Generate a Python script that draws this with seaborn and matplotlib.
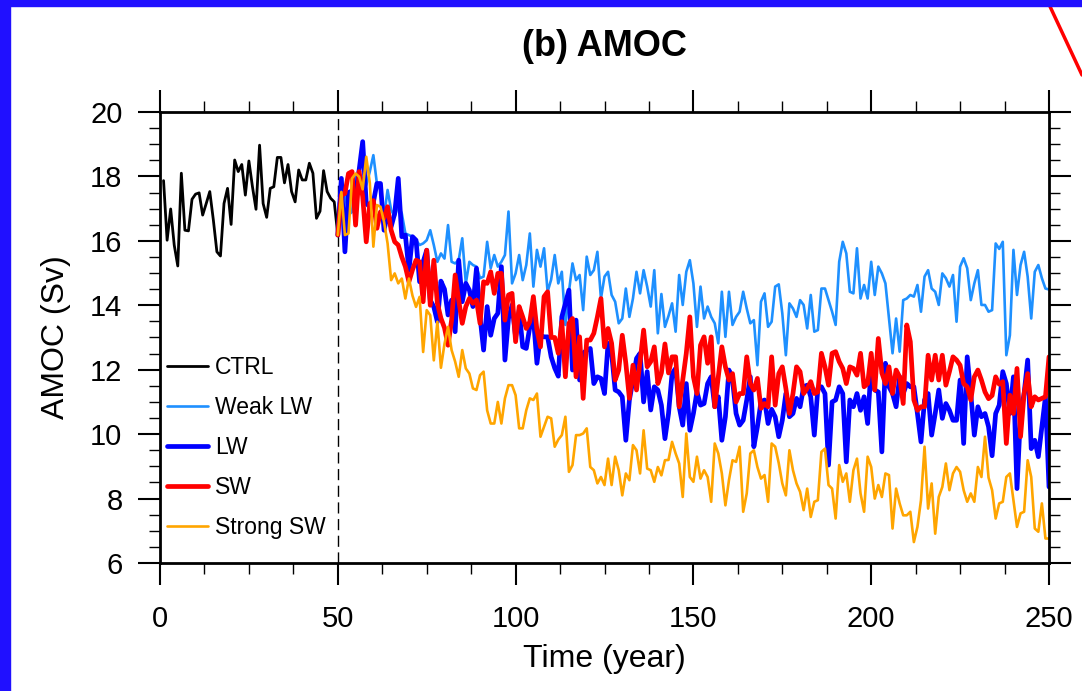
import matplotlib.pyplot as plt
import seaborn as sns
from matplotlib.ticker import MultipleLocator
from matplotlib.patches import Rectangle
from matplotlib.lines import Line2D

# CTRL: años 1-50
years_ctrl = list(range(1, 51))
ctrl = [17.87, 16.02, 16.99, 15.87, 15.22, 18.10, 16.33, 16.31, 17.29, 17.45,
        17.49, 16.80, 17.16, 17.53, 16.65, 15.66, 15.53, 17.16, 17.63, 16.51,
        18.51, 18.15, 18.37, 17.42, 18.48, 17.68, 16.98, 18.97, 17.16, 16.73,
        17.63, 17.68, 18.59, 18.59, 17.80, 18.37, 17.53, 17.21, 18.20, 17.89,
        17.89, 18.41, 18.10, 16.70, 16.92, 18.18, 17.53, 17.32, 17.21, 16.18]

# experimentos: años 50-250
years_exp = list(range(50, 251))
weak_lw = [16.18,
           17.58, 17.47, 16.80, 16.90, 17.99, 18.09, 17.89, 17.73, 18.15, 18.66,
           17.78, 17.73, 16.75, 17.58, 16.96, 16.75, 17.11, 16.85, 16.23, 16.18,
           16.13, 16.02, 15.87, 15.92, 16.02, 16.33, 15.87, 15.35, 15.61, 15.45,
           16.49, 15.35, 15.30, 15.40, 16.08, 14.68, 15.35, 15.25, 15.20, 14.84,
           14.89, 15.97, 15.15, 15.56, 15.20, 15.35, 15.56, 16.91, 14.68, 14.99,
           15.56, 14.78, 15.25, 16.23, 14.58, 15.72, 15.20, 15.77, 14.42, 14.80,
           15.56, 14.68, 15.04, 13.39, 14.42, 15.30, 14.78, 14.94, 13.85, 15.51,
           14.94, 15.09, 15.66, 14.21, 14.89, 15.04, 14.32, 14.11, 13.44, 13.59,
           14.52, 13.64, 14.21, 15.04, 14.37, 15.09, 14.58, 13.96, 15.09, 13.13,
           14.35, 13.33, 13.67, 14.06, 13.18, 14.94, 14.01, 15.04, 15.40, 14.68,
           13.33, 14.58, 13.59, 13.96, 13.64, 13.44, 12.82, 14.42, 13.02, 14.42,
           13.39, 13.64, 13.80, 14.42, 13.90, 13.44, 13.54, 12.14, 14.11, 14.37,
           13.33, 13.49, 14.58, 14.65, 13.75, 12.45, 14.06, 13.90, 13.64, 14.16,
           14.01, 13.28, 14.32, 13.18, 13.23, 14.52, 14.52, 14.16, 13.80, 13.39,
           15.35, 15.97, 15.61, 14.42, 14.37, 15.77, 14.21, 14.63, 14.21, 15.35,
           14.32, 15.20, 14.99, 14.68, 13.60, 12.51, 13.59, 12.56, 14.16, 14.21,
           14.32, 14.27, 14.63, 13.80, 14.89, 15.09, 14.52, 14.42, 14.01, 14.99,
           14.84, 14.58, 14.94, 13.49, 15.20, 15.46, 15.15, 14.16, 14.68, 15.09,
           14.01, 14.01, 13.80, 13.85, 15.92, 15.75, 15.97, 12.45, 13.07, 15.72,
           14.32, 15.25, 15.66, 14.89, 13.59, 15.04, 15.25, 14.84, 14.52, 14.49]
lw = [16.18,
      17.94, 15.66, 17.50, 17.55, 17.45, 18.20, 19.08, 17.16, 17.06, 17.20,
      17.78, 17.78, 16.33, 16.85, 16.44, 16.85, 17.94, 16.13, 16.18, 15.09,
      16.13, 16.02, 14.73, 15.35, 15.71, 14.16, 13.95, 13.49, 14.75, 14.50,
      13.70, 14.16, 13.18, 15.40, 14.11, 14.68, 14.47, 13.96, 15.15, 13.64,
      12.61, 13.96, 13.07, 13.59, 13.75, 15.20, 12.30, 13.59, 14.01, 13.02,
      13.85, 12.71, 12.66, 13.33, 13.64, 12.20, 13.07, 13.02, 13.02, 12.40,
      12.05, 11.80, 13.64, 14.06, 14.47, 11.99, 13.54, 11.68, 12.51, 12.61,
      12.66, 11.57, 11.78, 11.73, 11.26, 12.82, 12.51, 11.37, 11.31, 11.16,
      9.81, 11.06, 11.68, 12.35, 12.51, 11.00, 11.94, 10.75, 11.47, 11.37,
      10.90, 9.86, 10.64, 11.88, 12.04, 10.85, 10.28, 11.57, 10.12, 10.64,
      11.31, 10.90, 10.95, 11.57, 11.78, 10.85, 11.16, 9.81, 10.54, 11.99,
      11.68, 10.64, 10.28, 10.43, 11.06, 11.78, 9.61, 10.23, 11.00, 11.06,
      10.33, 10.77, 10.54, 9.92, 10.43, 11.26, 10.54, 10.64, 11.11, 10.85,
      11.47, 11.52, 11.16, 9.97, 11.42, 11.47, 11.26, 9.04, 11.00, 11.06,
      11.47, 11.26, 9.14, 11.06, 10.85, 11.26, 10.74, 11.16, 10.33, 12.14,
      11.37, 11.31, 9.45, 12.20, 11.47, 11.26, 10.85, 11.78, 11.26, 11.57,
      11.47, 11.47, 10.64, 9.76, 11.06, 11.26, 9.97, 10.64, 11.37, 10.49,
      10.95, 10.74, 10.43, 10.43, 11.68, 9.71, 12.40, 11.26, 9.97, 10.85,
      10.54, 10.64, 10.23, 9.33, 10.64, 10.90, 11.94, 11.57, 10.64, 11.78,
      8.31, 10.64, 11.26, 12.30, 9.55, 9.81, 9.30, 10.23, 11.16, 8.36]
sw = [16.18,
      17.42, 17.47, 18.09, 18.15, 16.49, 18.15, 17.37, 15.97, 17.16, 17.25,
      16.39, 16.90, 16.70, 17.06, 16.33, 15.97, 15.87, 15.50, 15.20, 14.73,
      15.10, 15.40, 15.35, 14.11, 15.71, 14.00, 15.40, 14.06, 13.60, 13.30,
      12.76, 13.54, 14.94, 14.16, 13.44, 13.96, 14.21, 14.06, 14.16, 13.44,
      14.73, 14.68, 15.04, 14.37, 14.99, 14.99, 13.54, 14.32, 14.37, 12.87,
      13.96, 13.64, 13.28, 13.49, 14.27, 13.23, 12.71, 14.27, 14.42, 13.00,
      13.00, 12.51, 13.49, 11.78, 13.44, 13.59, 11.78, 13.02, 11.11, 12.92,
      12.92, 13.13, 13.64, 14.21, 12.71, 13.28, 12.82, 11.68, 11.99, 13.07,
      12.20, 11.11, 12.14, 11.37, 12.25, 13.23, 12.09, 12.25, 12.71, 11.57,
      11.90, 12.80, 11.90, 12.40, 12.40, 10.85, 11.68, 12.51, 13.64, 11.78,
      11.26, 12.76, 13.02, 12.20, 13.02, 10.85, 11.78, 12.71, 12.09, 11.68,
      11.88, 11.00, 11.26, 11.26, 12.40, 11.57, 11.37, 11.73, 10.80, 10.95,
      10.85, 12.40, 10.90, 11.88, 12.09, 11.42, 10.64, 11.26, 12.09, 11.94,
      11.26, 11.42, 11.63, 11.26, 11.31, 12.51, 12.09, 11.52, 12.51, 12.56,
      12.25, 12.04, 11.57, 12.09, 12.04, 11.83, 12.51, 11.47, 11.57, 12.51,
      11.37, 12.97, 11.90, 11.57, 12.09, 11.26, 11.99, 11.78, 10.95, 13.39,
      12.87, 11.06, 10.74, 10.85, 10.85, 12.45, 11.68, 12.45, 11.68, 12.45,
      11.52, 11.94, 12.40, 12.30, 12.14, 11.57, 11.47, 11.06, 11.78, 11.99,
      11.68, 11.31, 11.10, 11.20, 11.78, 11.55, 11.63, 9.71, 11.21, 10.64,
      12.04, 9.92, 11.26, 11.88, 10.85, 11.16, 11.06, 11.11, 11.16, 12.40]
strong_sw = [16.18,
             17.52, 16.18, 16.23, 17.94, 18.09, 17.99, 17.60, 18.61, 17.80, 15.82,
             17.11, 17.06, 16.59, 15.92, 14.78, 14.99, 14.68, 14.83, 14.21, 14.83,
             14.30, 13.95, 14.26, 12.55, 13.85, 13.69, 12.29, 13.49, 12.06, 12.80,
             13.33, 12.61, 12.25, 11.78, 12.61, 12.04, 11.88, 11.42, 11.37, 11.83,
             11.94, 10.74, 10.33, 10.33, 11.00, 10.33, 11.11, 11.52, 11.52, 11.21,
             10.18, 10.18, 10.74, 11.11, 11.06, 11.26, 9.92, 10.23, 10.54, 10.49,
             9.61, 9.83, 9.97, 10.54, 8.83, 9.04, 9.97, 9.97, 10.02, 10.18,
             8.98, 8.88, 8.47, 8.67, 8.42, 9.24, 8.42, 9.30, 8.88, 8.10,
             8.78, 8.57, 9.66, 9.50, 8.78, 10.12, 8.93, 8.88, 8.52, 8.98,
             8.72, 9.19, 9.20, 9.76, 9.40, 9.09, 8.05, 10.02, 8.67, 8.52,
             9.30, 8.62, 8.88, 8.67, 7.90, 9.71, 9.40, 8.78, 7.79, 8.57,
             9.19, 9.14, 9.61, 7.59, 8.16, 9.40, 9.50, 8.98, 8.62, 8.73,
             7.90, 9.71, 9.61, 9.10, 8.47, 8.10, 9.50, 8.88, 8.47, 8.21,
             7.64, 8.31, 7.43, 7.90, 7.95, 9.45, 9.55, 8.42, 8.31, 7.38,
             9.04, 8.52, 8.78, 7.90, 8.88, 9.24, 8.16, 7.59, 9.30, 8.98,
             8.00, 8.42, 8.05, 8.78, 8.73, 7.07, 8.31, 7.85, 7.48, 7.48,
             7.59, 6.65, 7.12, 7.95, 9.61, 7.69, 8.47, 6.91, 8.05, 8.36,
             9.09, 8.26, 8.78, 8.98, 8.83, 8.26, 7.90, 8.16, 7.90, 8.98,
             8.67, 9.92, 8.65, 8.26, 7.38, 7.85, 7.90, 8.67, 8.78, 7.95,
             7.12, 7.54, 7.59, 9.19, 8.67, 7.07, 6.97, 7.85, 6.76, 6.76]

sns.set_style("ticks")
plt.rcParams['font.family'] = ['Liberation Sans', 'DejaVu Sans']
plt.rcParams['text.color'] = 'black'
plt.rcParams['axes.labelcolor'] = 'black'

W, H = 1082, 691
fig = plt.figure(figsize=(W / 100, H / 100), dpi=100)
ax = fig.add_axes([160 / W, 1 - 563 / H, 889 / W, 451 / H])

series = [("CTRL", years_ctrl, ctrl, "black", 2.0),
          ("Weak LW", years_exp, weak_lw, "#1E90FF", 1.9),
          ("LW", years_exp, lw, "#0000FF", 3.4),
          ("SW", years_exp, sw, "#FF0000", 3.4),
          ("Strong SW", years_exp, strong_sw, "#FFA500", 1.9)]
for name, x, y, col, width in series:
    sns.lineplot(x=x, y=y, color=col, linewidth=width, label=name,
                 estimator=None, ax=ax)

ax.axvline(50, color='black', linewidth=1.0, dashes=(8, 4), zorder=0)

ax.set_xlim(0, 250)
ax.set_ylim(6, 20)
ax.xaxis.set_major_locator(MultipleLocator(50))
ax.xaxis.set_minor_locator(MultipleLocator(12.5))
ax.yaxis.set_major_locator(MultipleLocator(2))
ax.yaxis.set_minor_locator(MultipleLocator(0.5))
ax.tick_params(which='both', direction='out', top=True, right=True,
               labeltop=False, labelright=False, colors='black')
ax.tick_params(which='major', length=16, width=1.5, labelsize=21)
ax.tick_params(axis='x', which='major', pad=14)
ax.tick_params(axis='y', which='major', pad=11)
ax.tick_params(which='minor', length=8, width=1.0)
for sp in ax.spines.values():
    sp.set_linewidth(2.0)
    sp.set_color('black')

ax.set_xlabel("Time (year)", fontsize=23)
ax.set_ylabel("AMOC (Sv)", fontsize=23)
ax.xaxis.set_label_coords(0.5, -0.18)
ax.yaxis.set_label_coords(-0.1, 0.5)

ax.legend(loc='center left', bbox_to_anchor=(0.0, 0.256), frameon=False,
          fontsize=16.5, handlelength=1.8, handletextpad=0.3, labelspacing=0.74,
          borderaxespad=0, borderpad=0.3)

fig.text(604.5 / W, 1 - 46 / H, "(b) AMOC", ha='center', va='center',
         fontsize=26, fontweight='bold')

# marco azul y línea roja del recorte
fig.patches.append(Rectangle((0, 0), 10 / W, 1, transform=fig.transFigure,
                             color='#2010FF', zorder=5))
fig.patches.append(Rectangle((0, 1 - 6 / H), 1, 6 / H, transform=fig.transFigure,
                             color='#2010FF', zorder=5))
fig.add_artist(Line2D([1047 / W, 1.0], [1.0, 1 - 75 / H], color='#FF0000',
                      linewidth=2.5, transform=fig.transFigure))

fig.savefig('out.png', dpi=100)
